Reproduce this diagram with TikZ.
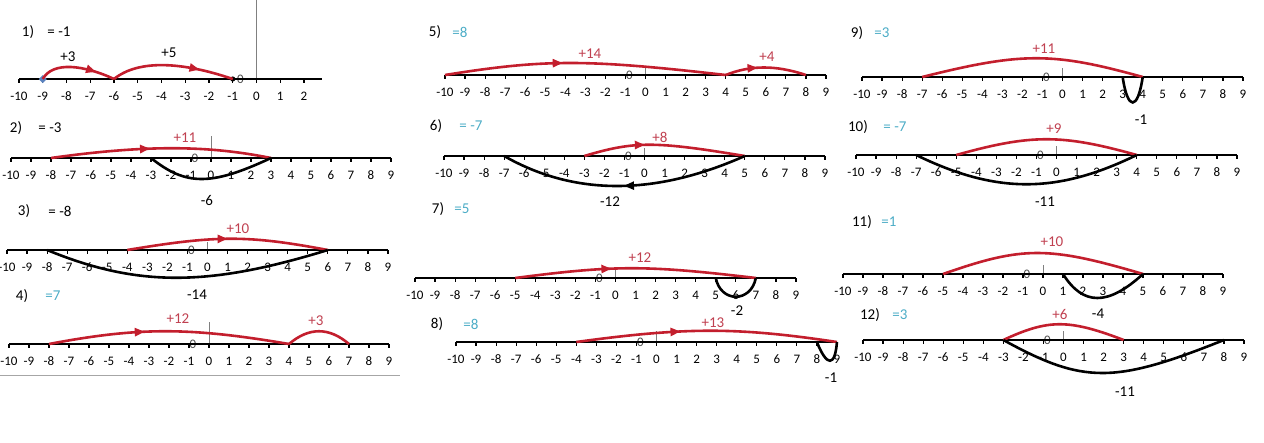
\documentclass[tikz,border=0pt]{standalone}
\usepackage{fontspec}
\setmainfont{Carlito}
\usepackage{tikz}
\usetikzlibrary{arrows.meta,decorations.markings}
\definecolor{rojo}{RGB}{195,30,45}
\definecolor{rojotexto}{RGB}{192,64,80}
\definecolor{celeste}{RGB}{75,172,198}
\definecolor{azulrombo}{RGB}{90,130,190}

\begin{document}
\begin{tikzpicture}[x=1pt,y=-1pt,
  etiq/.style={font=\fontsize{15}{18}\selectfont},
  num/.style={font=\fontsize{13}{15}\selectfont},
  salto/.style={rojo,line width=2.6pt},
  resta/.style={black,line width=2.6pt},
  flecha/.style={postaction={decorate,decoration={markings,
    mark=at position #1 with {\arrow{Triangle[length=10pt,width=8pt]}}}}}]
\useasboundingbox (0,0) rectangle (1264,442);

%rectas numericas: numero/cero/altura/paso/ultimo/largo/linea del cero
\foreach \n/\cero/\eje/\paso/\fin/\largo/\alto in {1/256.5/79/23.75/2/2.75/0,
  2/211/158/20/9/9/136, 3/207.5/250/20.05/9/9/242, 4/209/344/20/9/9/322,
  5/645.5/75/20.05/9/9/67, 6/644.5/156/20.05/9/9/148, 7/615.5/278/20.05/9/9/270,
  8/656.5/342/20.05/9/9/331, 9/1062.5/77/20.05/9/9/68, 10/1056.5/155/20.05/9/9/146,
  11/1043/274/20/9/9/265, 12/1063.5/340/20.05/9/9/331}{
  %linea gris del cero
  \draw [gray,thin] (\cero,\alto) -- (\cero,\eje);
  \node [num,gray!60!black] (C\n) at (\cero-16,\eje) {0};
  %eje
  \draw [line width=1.6pt] (\cero-10*\paso,\eje) -- (\cero+\largo*\paso,\eje);
  %marcas y numeracion
  \foreach \x in {-10,...,\fin}{
    \coordinate (L\n-\x) at (\cero+\x*\paso,\eje);
    \draw [line width=1.2pt] (L\n-\x) -- ++(0,4);
    \node [num] (T\n-\x) at (\cero+\x*\paso,\eje+17) {\x};
  }
}

%linea gris de separacion
\draw [gray!70,line width=0.8pt] (0,375) -- (400,375);

%titulos de cada ejercicio
\foreach \n/\a/\b/\yy/\res/\col in {1/28/59/32/= -1/black, 2/16/50/128/= -3/black,
  3/24/60/211/= -8/black, 4/22/53/296/=7/celeste, 5/435/460/32/=8/celeste,
  6/436/471/126/= -7/celeste, 7/438/462/209/=5/celeste, 8/437/471/324/=8/celeste,
  9/857/882/33/=3/celeste, 10/858/895/127/= -7/celeste, 11/862/889/222/=1/celeste,
  12/870/900/315/=3/celeste}{
  \node [etiq] (N\n) at (\a,\yy) {\n)};
  \node [etiq,\col] (R\n) at (\b,\yy) {\res};
}

%1)
\fill [azulrombo] (L1--9) +(-4,0) -- +(0,-4) -- +(4,0) -- +(0,4) -- cycle;
\fill (L1--1) circle (2.6);
\draw [salto,flecha=0.75] (L1--9) .. controls +(10,-18) and +(-30,-14) .. (L1--6);
\draw [salto,flecha=0.72] (L1--6) .. controls +(25,-20) and +(-50,-17) .. (L1--1);
\node [etiq] (S1a) at (68,57) {+3};
\node [etiq] (S1b) at (169,53) {+5};

%2)
\draw [salto,flecha=0.45] (L2--8) .. controls +(100,-14) and +(-60,-12) .. (L2-3);
\draw [resta] (L2--3) .. controls +(35,28) and +(-60,28) .. (L2-3);
\node [etiq,rojotexto] (S2) at (185,138) {+11};
\node [etiq] (M2) at (207,200) {-6};

%3)
\draw [salto,flecha=0.5] (L3--4) .. controls +(90,-15) and +(-80,-15) .. (L3-6);
\draw [resta] (L3--8) .. controls +(90,37) and +(-120,37) .. (L3-6);
\node [etiq,rojotexto] (S3) at (238,229) {+10};
\node [etiq] (M3) at (197,295) {-14};

%4)
\draw [salto,flecha=0.4] (L4--8) .. controls +(90,-17) and +(-100,-17) .. (L4-4);
\draw [salto] (L4-4) .. controls +(20,-17) and +(-20,-17) .. (L4-7);
\node [etiq,rojotexto] (S4a) at (178,319) {+12};
\node [etiq,rojotexto] (S4b) at (316,321) {+3};

%5)
\draw [salto,flecha=0.42] (L5--10) .. controls +(100,-16) and +(-140,-16) .. (L5-4);
\draw [salto,flecha=0.4] (L5-4) .. controls +(25,-10) and +(-30,-10) .. (L5-8);
\node [etiq,rojotexto] (S5a) at (590,54) {+14};
\node [etiq,rojotexto] (S5b) at (767,57) {+4};

%6)
\draw [salto,flecha=0.38] (L6--3) .. controls +(50,-15) and +(-90,-15) .. (L6-5);
\draw [resta,flecha=0.5] (L6-5) .. controls +(-90,40) and +(70,40) .. (L6--7);
\node [etiq,rojotexto] (S6) at (660,137) {+8};
\node [etiq] (M6) at (610,202) {-12};

%7)
\draw [salto,flecha=0.4] (L7--5) .. controls +(100,-13) and +(-110,-13) .. (L7-7);
\draw [resta] (L7-5) .. controls +(5,25) and +(-5,25) .. (L7-7);
\node [etiq,rojotexto] (S7) at (640,258) {+12};
\node [etiq] (M7) at (737,311) {-2};

%8)
\draw [salto,flecha=0.4] (L8--4) .. controls +(110,-15) and +(-100,-15) .. (L8-9);
\draw [resta] (L8-8) .. controls +(10,25) and +(-2,25) .. (L8-9);
\node [etiq,rojotexto] (S8) at (713,323) {+13};
\node [etiq] (M8) at (831,378) {-1};

%9)
\draw [salto] (L9--7) .. controls +(100,-25) and +(-90,-25) .. (L9-4);
\draw [resta] (L9-3) .. controls +(5,34) and +(-5,34) .. (L9-4);
\node [etiq,rojotexto] (S9) at (1044,49) {+11};
\node [etiq] (M9) at (1141,120) {-1};

%10)
\draw [salto] (L10--5) .. controls +(75,-21) and +(-75,-21) .. (L10-4);
\draw [resta] (L10--7) .. controls +(80,39) and +(-80,39) .. (L10-4);
\node [etiq,rojotexto] (S10) at (1054,129) {+9};
\node [etiq] (M10) at (1045,202) {-11};

%11)
\draw [salto] (L11--5) .. controls +(80,-28) and +(-95,-28) .. (L11-5);
\draw [resta] (L11-1) .. controls +(20,32) and +(-35,32) .. (L11-5);
\node [etiq,rojotexto] (S11) at (1052,242) {+10};
\node [etiq] (M11) at (1098,314) {-4};

%12)
\draw [salto] (L12--3) .. controls +(45,-21) and +(-55,-21) .. (L12-3);
\draw [resta] (L12--3) .. controls +(80,44) and +(-110,44) .. (L12-8);
\node [etiq,rojotexto] (S12) at (1060,314) {+6};
\node [etiq] (M12) at (1125,392) {-11};
\end{tikzpicture}
\end{document}
